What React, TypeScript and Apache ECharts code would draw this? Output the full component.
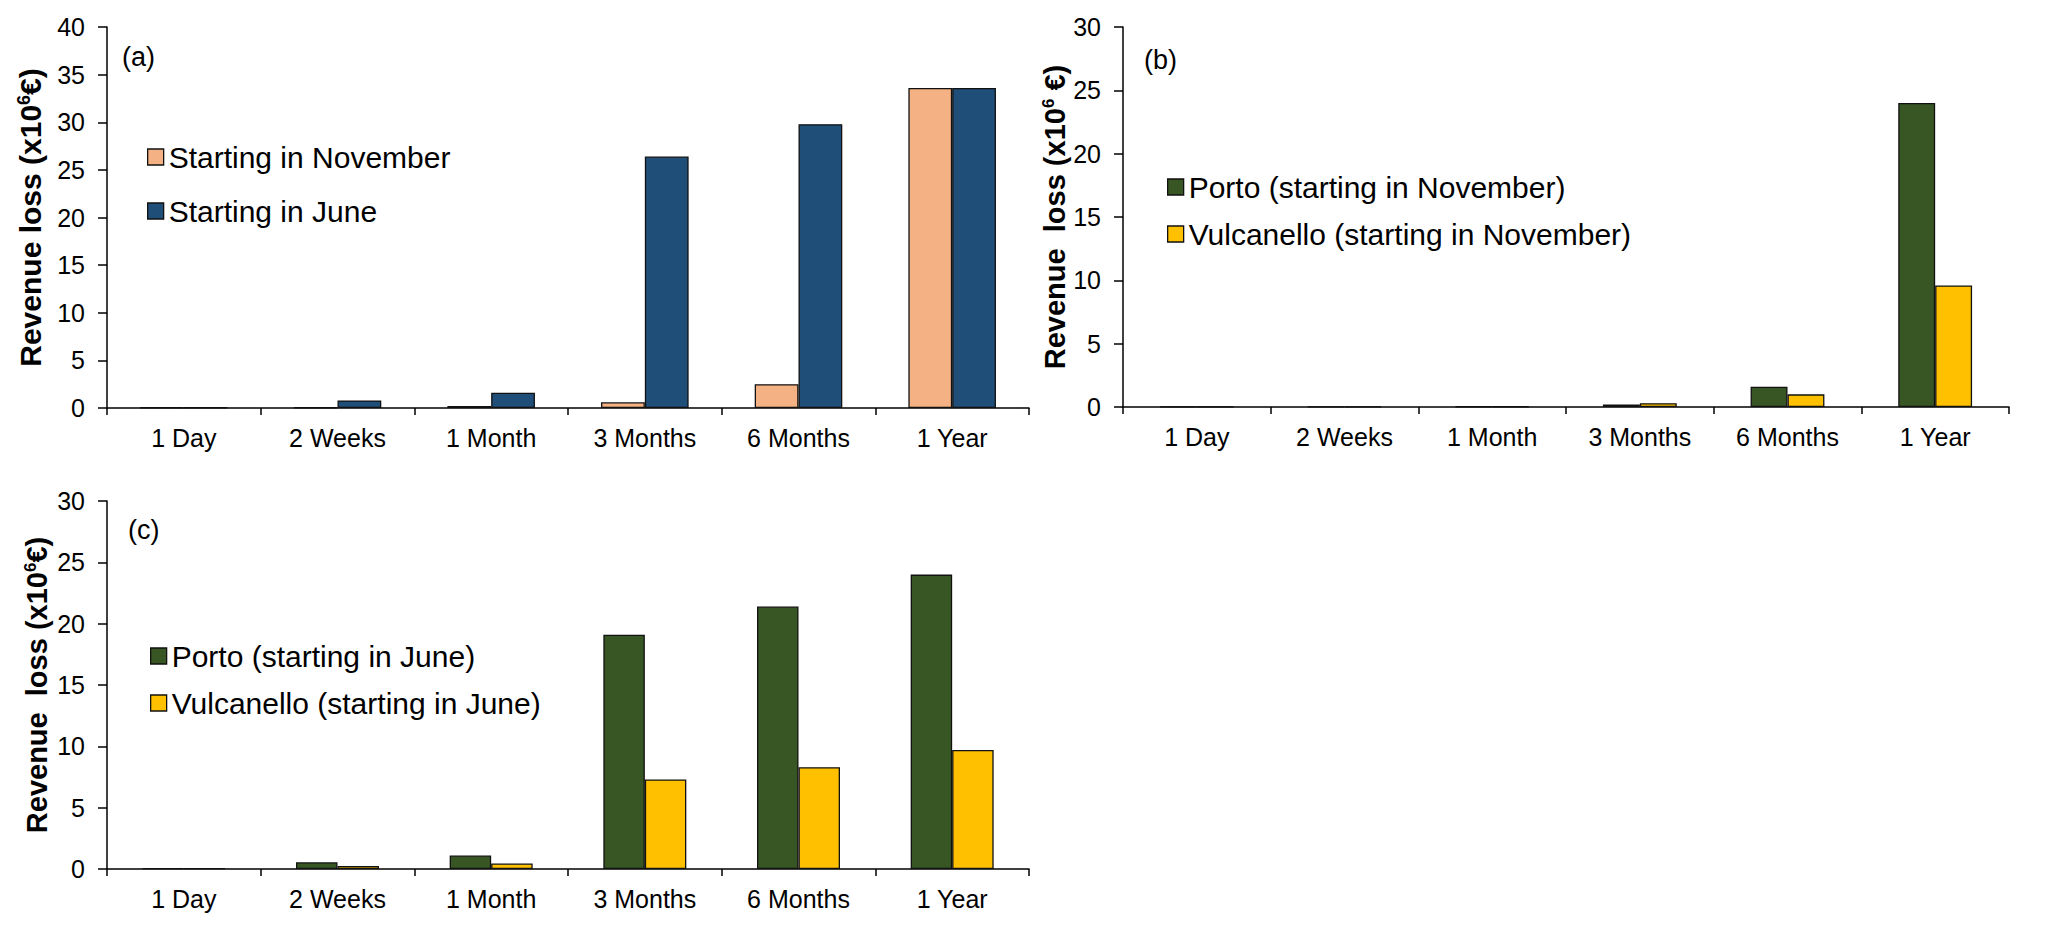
import React, { useEffect, useRef } from "react";
import * as echarts from "echarts";

const categories = ["1 Day", "2 Weeks", "1 Month", "3 Months", "6 Months", "1 Year"];

const aNovember = [0.05, 0.05, 0.2, 0.6, 2.5, 33.6];
const aJune = [0.05, 0.8, 1.6, 26.4, 29.8, 33.6];

const bPorto = [0.03, 0.03, 0.04, 0.2, 1.6, 24.0];
const bVulcanello = [0.03, 0.03, 0.04, 0.3, 1.0, 9.6];

const cPorto = [0.05, 0.55, 1.1, 19.1, 21.4, 24.0];
const cVulcanello = [0.05, 0.25, 0.45, 7.3, 8.3, 9.7];

const yTicksA = { min: 0, max: 40, interval: 5 };
const yTicksBC = { min: 0, max: 30, interval: 5 };

const FONT = "Liberation Sans, Arial, sans-serif";

export default function App() {
  const ref = useRef<HTMLDivElement>(null);
  useEffect(() => {
    if (!ref.current) return;
    const chart = echarts.init(ref.current, undefined, { renderer: "svg" });

    const grids = [
      { left: 107, top: 27, width: 922, height: 381 },
      { left: 1123, top: 27, width: 886, height: 380 },
      { left: 107, top: 501, width: 922, height: 368 },
    ];

    const axisLine = { show: true, lineStyle: { color: "#000", width: 1.5 } };

    const xAxes = grids.map((_, i) => ({
      type: "category",
      gridIndex: i,
      data: categories,
      axisLine,
      axisTick: { show: true, length: 7, lineStyle: { color: "#000", width: 1.5 } },
      axisLabel: { color: "#000", fontSize: 25, fontFamily: FONT, margin: 17 },
      splitLine: { show: false },
    }));

    const nameStyle = (fs: number) => ({
      fontFamily: FONT,
      fontWeight: "bold",
      fontSize: fs,
      color: "#000",
      rich: {
        s: { fontSize: Math.round(fs * 0.6), fontWeight: "bold", fontFamily: FONT, color: "#000", verticalAlign: "top", lineHeight: Math.round(fs * 0.6) },
      },
    });

    const yAxes = [
      { ...yTicksA, nameGap: 62, fs: 30, name: "Revenue loss (x10{s|6}€)" },
      { ...yTicksBC, nameGap: 54, fs: 29, name: "Revenue  loss (x10{s|6} €)" },
      { ...yTicksBC, nameGap: 56, fs: 29, name: "Revenue  loss (x10{s|6}€)" },
    ].map((y, i) => ({
      type: "value",
      gridIndex: i,
      min: y.min,
      max: y.max,
      interval: y.interval,
      name: y.name,
      nameLocation: "middle",
      nameGap: y.nameGap,
      nameRotate: 90,
      nameTextStyle: nameStyle(y.fs),
      axisLine,
      axisTick: { show: true, length: 9, lineStyle: { color: "#000", width: 1.5 } },
      axisLabel: { color: "#000", fontSize: 25, fontFamily: FONT, margin: 22 },
      splitLine: { show: false },
    }));

    const border = { borderColor: "#111", borderWidth: 1.3 };
    const mk = (name: string, data: number[], idx: number, color: string, gap: string) => ({
      type: "bar",
      name,
      data,
      xAxisIndex: idx,
      yAxisIndex: idx,
      barGap: "0%",
      barCategoryGap: gap,
      itemStyle: { color, ...border },
    });

    const series = [
      mk("Starting in November", aNovember, 0, "#F4B183", "43%"),
      mk("Starting in June", aJune, 0, "#1F4E79", "43%"),
      mk("Porto (starting in November)", bPorto, 1, "#375623", "50%"),
      mk("Vulcanello (starting in November)", bVulcanello, 1, "#FFC000", "50%"),
      mk("Porto (starting in June)", cPorto, 2, "#375623", "46%"),
      mk("Vulcanello (starting in June)", cVulcanello, 2, "#FFC000", "46%"),
    ];

    const legendBase = {
      orient: "vertical",
      icon: "rect",
      itemWidth: 16,
      itemHeight: 16,
      itemStyle: { borderColor: "#111", borderWidth: 1.3 },
      textStyle: { color: "#000", fontSize: 30, fontFamily: FONT },
      selectedMode: false,
    };

    const legends = [
      { ...legendBase, left: 142, top: 137, itemGap: 24, data: ["Starting in November", "Starting in June"] },
      { ...legendBase, left: 1162, top: 167, itemGap: 17, data: ["Porto (starting in November)", "Vulcanello (starting in November)"] },
      { ...legendBase, left: 145, top: 636, itemGap: 17, data: ["Porto (starting in June)", "Vulcanello (starting in June)"] },
    ];

    const panelLabel = (t: string, x: number, y: number) => ({
      type: "text",
      x,
      y,
      style: { text: t, fontSize: 27, fontFamily: FONT, fill: "#000", verticalAlign: "middle", align: "left" },
    });

    chart.setOption({
      animation: false,
      backgroundColor: "#fff",
      grid: grids,
      xAxis: xAxes,
      yAxis: yAxes,
      legend: legends,
      series,
      graphic: [
        panelLabel("(a)", 122, 57),
        panelLabel("(b)", 1144, 60),
        panelLabel("(c)", 128, 530),
      ],
    });

    return () => chart.dispose();
  }, []);

  return (
    <div
      ref={ref}
      style={{ position: "fixed", left: 0, top: 0, width: 2067, height: 932, background: "#fff" }}
    />
  );
}
